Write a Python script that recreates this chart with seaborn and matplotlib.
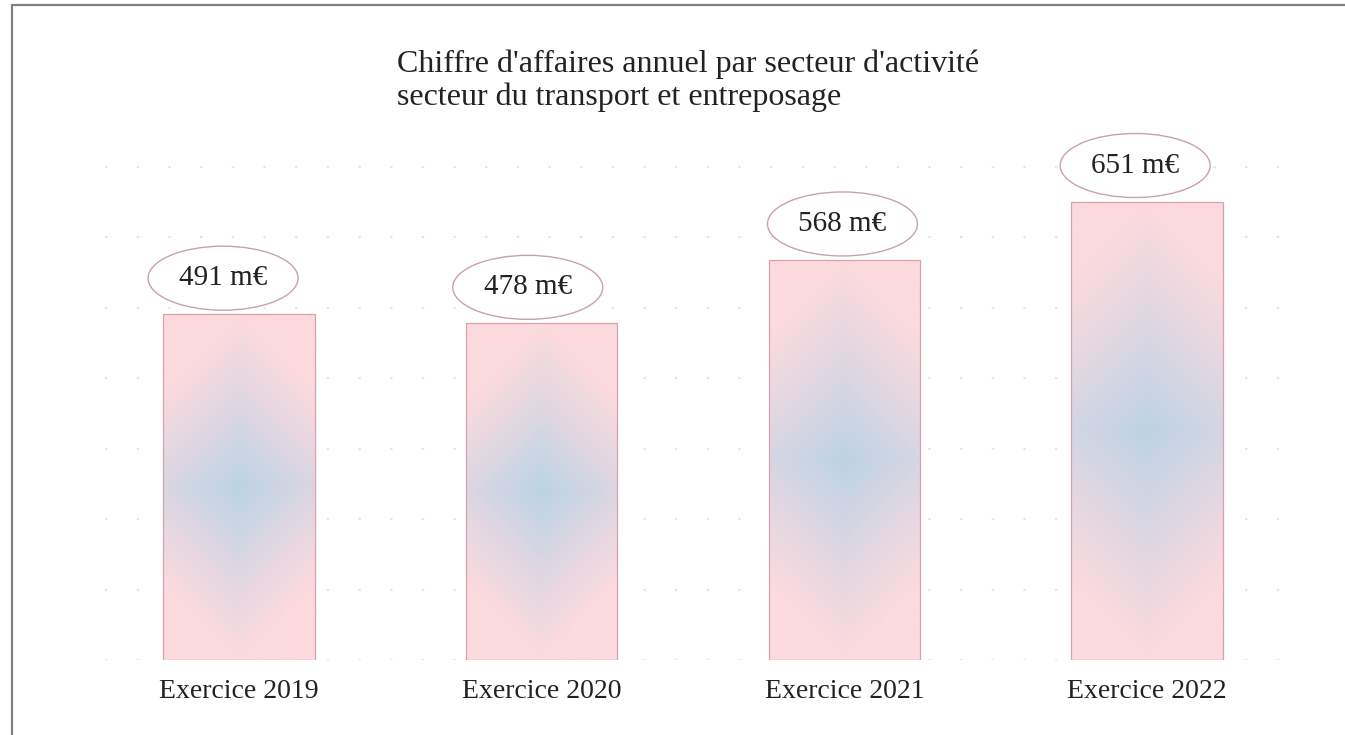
import numpy as np
import pandas as pd
import matplotlib
matplotlib.use("Agg")
import matplotlib.pyplot as plt
from matplotlib.patches import Ellipse
from matplotlib.lines import Line2D
import seaborn as sns

# ---- data ----
categories = ["Exercice 2019", "Exercice 2020", "Exercice 2021", "Exercice 2022"]
values = [491, 478, 568, 651]
labels = ["491 m€", "478 m€", "568 m€", "651 m€"]
title_line1 = "Chiffre d'affaires annuel par secteur d'activité"
title_line2 = "secteur du transport et entreposage"

# label ellipse horizontal offsets (pixels, style only)
ell_dx_px = [-16, -14, -2, -12]

sns.set_theme(style="white")
plt.rcParams['font.family'] = ['Liberation Serif', 'DejaVu Serif']
FS_TICK = 20
FS_LAB = 21
FS_TITLE = 23
TXT = "#222222"

W, H = 1345, 735
fig = plt.figure(figsize=(W / 100, H / 100), dpi=100)
ax_left, ax_right = 105, 1300
ax_bot, ax_top = 660, 130
ax = fig.add_axes([ax_left / W, (H - ax_bot) / H, (ax_right - ax_left) / W, (ax_bot - ax_top) / H])

df = pd.DataFrame({"cat": categories, "val": values})
sns.barplot(data=df, x="cat", y="val", ax=ax, width=0.5, color="white",
            edgecolor="#d6a2b1", linewidth=0.9, zorder=3)

px_per_unit = 493 / 700.0
ymax = (ax_bot - ax_top) / px_per_unit
xlim = (-0.443, 3.505)
px_per_cat = (ax_right - ax_left) / (xlim[1] - xlim[0])

# gradient fill in bars (diamond in pixel space: blue centre, pink outside)
center_c = np.array([186, 211, 229]) / 255.0
edge_c = np.array([252, 218, 222]) / 255.0

for p in ax.patches:
    x0, y0 = p.get_x(), p.get_y()
    w, h = p.get_width(), p.get_height()
    wpx, hpx = w * px_per_cat, h * px_per_unit
    nx, ny = int(wpx), int(hpx)
    dx = np.abs(np.linspace(-wpx / 2, wpx / 2, nx))
    dy = np.abs(np.linspace(-hpx / 2, hpx / 2, ny))
    DX, DY = np.meshgrid(dx, dy)
    t = np.clip((DX + DY) / (hpx / 2), 0, 1) ** 0.9
    img = center_c[None, None, :] * (1 - t[..., None]) + edge_c[None, None, :] * t[..., None]
    im = ax.imshow(img, extent=[x0, x0 + w, y0, y0 + h], aspect="auto",
                   origin="lower", zorder=2.5, interpolation="bilinear")
    im.set_clip_path(p)
    p.set_facecolor("none")

# dotted horizontal gridlines
for gy in range(0, 800, 100):
    if gy <= ymax:
        ax.axhline(gy, color="#e6e6e6", lw=1.5, linestyle=(0, (1.2, 14)), zorder=1)

# ellipse labels
ell_w = 150 / px_per_cat
ell_h = 64 / px_per_unit
gap = 4 / px_per_unit
for i, (v, lab) in enumerate(zip(values, labels)):
    cx = i + ell_dx_px[i] / px_per_cat
    cy = v + gap + ell_h / 2
    e = Ellipse((cx, cy), ell_w, ell_h, facecolor="white", edgecolor="#c9a1ae",
                lw=1.0, zorder=4)
    ax.add_patch(e)
    ax.text(cx, cy, lab, ha="center", va="center", fontsize=FS_LAB, color=TXT, zorder=5)

ax.set_xlim(*xlim)
ax.set_ylim(0, ymax)
ax.set_xlabel("")
ax.set_ylabel("")
ax.set_yticks([])
ax.tick_params(axis="x", length=0, pad=14, labelsize=FS_TICK, labelcolor=TXT)
for s in ax.spines.values():
    s.set_visible(False)
ax.set_facecolor("none")

# title
fig.text(397 / W, (H - 72) / H, title_line1, fontsize=FS_TITLE, color=TXT, ha="left", va="baseline")
fig.text(397 / W, (H - 105) / H, title_line2, fontsize=FS_TITLE, color=TXT, ha="left", va="baseline")

# partial frame (left and top edges)
fig.add_artist(Line2D([12 / W, 12 / W], [0, (H - 5) / H], color="#808080", lw=1.6,
                      transform=fig.transFigure))
fig.add_artist(Line2D([12 / W, 1], [(H - 5) / H, (H - 5) / H], color="#808080", lw=1.6,
                      transform=fig.transFigure))

fig.savefig("out.png", dpi=100)
